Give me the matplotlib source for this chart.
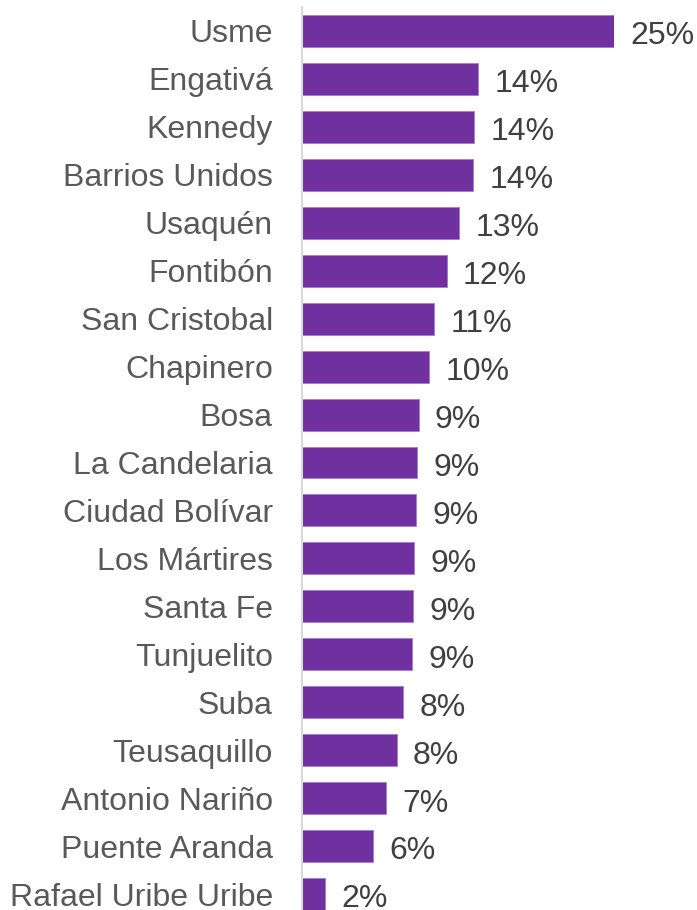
import matplotlib.pyplot as plt

# DATA
localidades = ['Usme', 'Engativá', 'Kennedy', 'Barrios Unidos', 'Usaquén', 'Fontibón',
               'San Cristobal', 'Chapinero', 'Bosa', 'La Candelaria', 'Ciudad Bolívar',
               'Los Mártires', 'Santa Fe', 'Tunjuelito', 'Suba', 'Teusaquillo',
               'Antonio Nariño', 'Puente Aranda', 'Rafael Uribe Uribe']
valores = [25.0, 14.1, 13.8, 13.7, 12.6, 11.6, 10.6, 10.2, 9.35, 9.2, 9.15, 9.0, 8.9,
           8.85, 8.1, 7.6, 6.75, 5.7, 1.85]

C_BAR = '#7030a0'
C_EDGE = '#a47cc8'
C_LABEL = '#595959'
C_VALUE = '#404040'

plt.rcParams['font.family'] = ['Liberation Sans', 'DejaVu Sans']

W, H = 697, 910
fig = plt.figure(figsize=(W / 100, H / 100), dpi=100)
# axes placed in pixel coordinates
x0, x1 = 302, 614
y_top, y_bot = 7, 918
ax = fig.add_axes([x0 / W, 1 - y_bot / H, (x1 - x0) / W, (y_bot - y_top) / H])

n = len(localidades)
pos = list(range(n))
ax.barh(pos, valores, height=0.667, color=C_BAR, edgecolor=C_EDGE, linewidth=0.6)

for p, v in zip(pos, valores):
    ax.text(v + 1.3, p + 0.04, f'{round(v):.0f}%', ha='left', va='center_baseline',
            fontsize=23, color=C_VALUE, clip_on=False)

ax.set_xlim(0, 25)
ax.set_ylim(n - 0.5, -0.5)
ax.set_yticks(pos)
ax.set_yticklabels(localidades, fontsize=23, color=C_LABEL, va='center_baseline')
ax.tick_params(axis='y', length=0, pad=21)
ax.set_xticks([])

for s in ['top', 'right', 'bottom']:
    ax.spines[s].set_visible(False)
ax.spines['left'].set_color('#d9d9d9')
ax.spines['left'].set_linewidth(1.5)

fig.savefig('out.png', dpi=100)
